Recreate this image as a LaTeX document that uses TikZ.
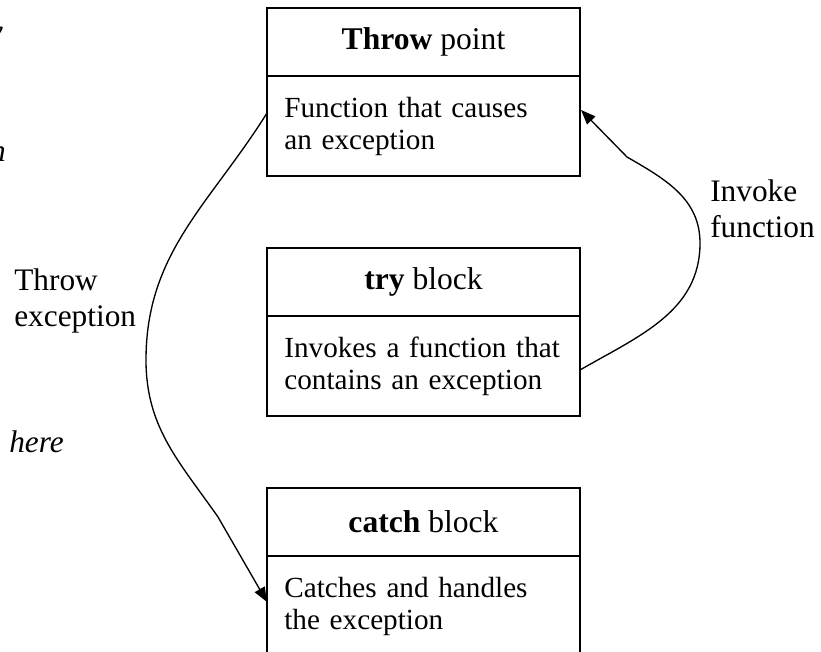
\documentclass[tikz,border=0pt]{standalone}
\usepackage{fontspec}
\setmainfont{Liberation Serif}
\usetikzlibrary{calc,positioning,arrows.meta}

\begin{document}
\begin{tikzpicture}[x=0.75pt,y=0.75pt,
    head/.style={draw,line width=1.1pt,outer sep=0pt,minimum width=234.75pt,minimum height=51pt,
      font=\fontsize{23.7}{26}\selectfont},
    body/.style={draw,line width=1.1pt,outer sep=0pt,minimum width=234.75pt,minimum height=75pt,
      inner xsep=13pt,text width=208.75pt,align=left,font=\fontsize{21.9}{24}\selectfont},
    lbl/.style={anchor=base west,inner sep=0pt,align=left,font=\fontsize{23.5}{27.4}\selectfont},
    cut/.style={lbl,font=\itshape\fontsize{23.5}{27.4}\selectfont},
    link/.style={line width=1pt,-{Triangle[length=11pt,width=8.5pt]}}]
  \useasboundingbox (0,0) rectangle (821,652);
  \clip (0,0) rectangle (821,652);

  % the three blocks, title part on top of the body part
  \node[head] (throwhead) at (423.5,610) {\textbf{Throw} point};
  \node[body,below=0pt of throwhead] (throwbody) {Function that causes\\an exception};
  \node[head,below=54pt of throwbody] (tryhead) {\textbf{try} block};
  \node[body,below=0pt of tryhead] (trybody) {Invokes a function that\\contains an exception};
  \node[head,below=54pt of trybody] (catchhead) {\textbf{catch} block};
  \node[body,below=0pt of catchhead] (catchbody) {Catches and handles\\the exception};

  % side labels, and what is left of the text at the left margin
  \node[lbl] (throwlbl) at (14,325) {Throw\\exception};
  \node[lbl] (invokelbl) at (710,414) {Invoke\\function};
  \node[cut,anchor=base east] (cuty) at (3,610) {y};
  \node[cut,anchor=base east] (cutn) at (6,490) {n};
  \node[cut] (cuthere) at (9,199) {here};

  % try -> throw point
  \coordinate (bulgeR) at (700,409);
  \coordinate (kinkR) at (627,495);
  \draw[link] ($(trybody.east)+(0,-4)$) to[out=30,in=-90] (bulgeR)
    to[out=90,in=-30] (kinkR) -- ($(throwbody.east)+(1,16)$);

  % throw point -> catch
  \coordinate (bulgeL) at (146,292);
  \coordinate (kinkL) at (218,135);
  \draw[link] ($(throwbody.west)+(0,13)$) to[out=238,in=90] (bulgeL)
    to[out=-90,in=125] (kinkL) -- ($(catchbody.west)+(0,4)$);
\end{tikzpicture}
\end{document}
